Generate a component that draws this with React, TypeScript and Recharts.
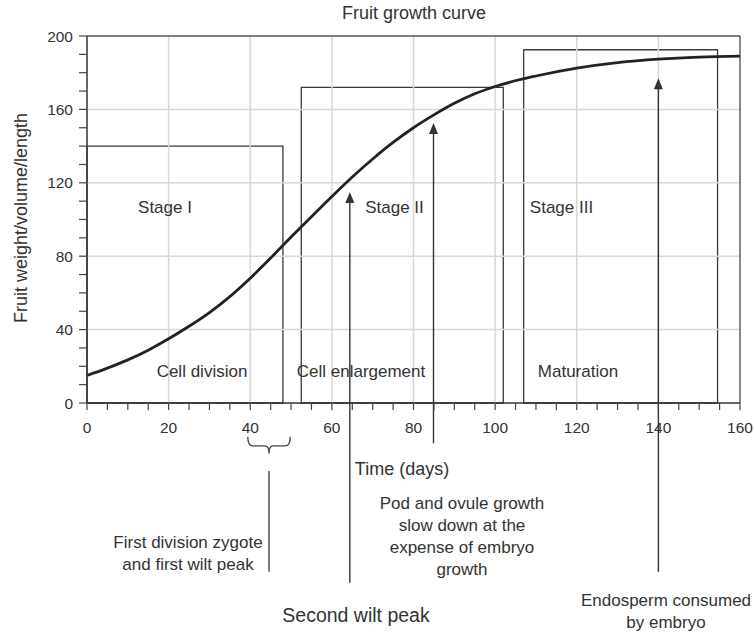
import React from 'react';
import {
  ComposedChart,
  Line,
  XAxis,
  YAxis,
  ReferenceLine,
  ReferenceArea,
} from 'recharts';

// growth curve
const DAYS = [0, 5, 10, 15, 20, 25, 30, 35, 40, 45, 50, 55, 60, 65, 70, 75, 80, 85, 90, 95, 100, 110, 120, 130, 140, 150, 160];
const WEIGHT = [15, 19, 23.5, 28.8, 35, 41.8, 49.3, 58, 68, 79, 90.5, 101.5, 112.5, 123.2, 133, 142, 150, 157, 163.3, 168.5, 172.5, 178.2, 182.5, 185.5, 187.4, 188.5, 189];

const X_TICKS = Array.from({ length: 33 }, (_, i) => i * 5);
const Y_TICKS = Array.from({ length: 21 }, (_, i) => i * 10);
const GRID_X = [20, 40, 60, 80, 100, 120, 140];
const GRID_Y = [40, 80, 120, 160];

// stage boxes
const STAGE_START = [0, 52.5, 107];
const STAGE_END = [48, 102, 154.5];
const STAGE_TOP = [140, 172, 192.5];

// pointer arrows (day, tip value, foot value below the axis)
const ARROW_X = [64.4, 84.9, 140];
const ARROW_TIP = [115, 152.6, 177];
const ARROW_FOOT = [-98, -22, -92];

const data = DAYS.map((d, i) => ({ day: d, weight: WEIGHT[i] }));

const FONT = '"Liberation Sans", Arial, Helvetica, sans-serif';
const INK = '#333';

const XTick = (props: any) => {
  const { x, y, payload } = props;
  if (payload.value % 20 !== 0) return null;
  return (
    <text x={x} y={y} dy="0.71em" textAnchor="middle" fontSize={15.5} fill={INK} fontFamily={FONT}>
      {payload.value}
    </text>
  );
};

const YTick = (props: any) => {
  const { x, y, payload } = props;
  if (payload.value % 40 !== 0) return null;
  return (
    <text x={x} y={y} dy="0.36em" textAnchor="end" fontSize={15.5} fill={INK} fontFamily={FONT}>
      {payload.value}
    </text>
  );
};

const Arrow = (props: any) => {
  const { x1, y1, x2, y2 } = props;
  const top = Math.min(y1, y2);
  const bottom = Math.max(y1, y2);
  const x = (x1 + x2) / 2;
  return (
    <g>
      <line x1={x} y1={bottom} x2={x} y2={top + 8} stroke="#333" strokeWidth={1.4} />
      <polygon points={`${x},${top} ${x - 4.5},${top + 11} ${x + 4.5},${top + 11}`} fill="#333" />
    </g>
  );
};

const Brace = (props: any) => {
  const { x, y, width, height } = props;
  const cx = x + width / 2;
  const m = y + height * 0.55;
  const d = `M${x},${y} Q${x},${m} ${x + 5},${m} L${cx - 4},${m} Q${cx},${m} ${cx},${y + height} Q${cx},${m} ${cx + 4},${m} L${x + width - 5},${m} Q${x + width},${m} ${x + width},${y}`;
  return <path d={d} fill="none" stroke="#444" strokeWidth={1.3} />;
};

const Txt = ({ x, y, size = 17, lines, anchor = 'middle' }: any) => (
  <text x={x} y={y} fontSize={size} fill={INK} fontFamily={FONT} textAnchor={anchor} dominantBaseline="central">
    {lines.map((l: string, i: number) => (
      <tspan key={i} x={x} dy={i === 0 ? 0 : 22}>
        {l}
      </tspan>
    ))}
  </text>
);

export default function App() {
  return (
    <div style={{ position: 'absolute', left: 0, top: 0, width: 755, height: 636, background: '#fff' }}>
      <ComposedChart
        width={755}
        height={636}
        data={data}
        margin={{ top: 36, right: 15, bottom: 203, left: 47 }}
      >
        {GRID_X.map((g) => (
          <ReferenceLine key={'gx' + g} x={g} stroke="#d8d8d8" strokeWidth={1.5} />
        ))}
        {GRID_Y.map((g) => (
          <ReferenceLine key={'gy' + g} y={g} stroke="#d8d8d8" strokeWidth={1.5} />
        ))}
        <ReferenceLine y={200} stroke="#555" strokeWidth={1.4} />
        <ReferenceLine x={160} stroke="#555" strokeWidth={1.4} />
        <XAxis
          type="number"
          dataKey="day"
          domain={[0, 160]}
          ticks={X_TICKS}
          interval={0}
          height={30}
          tickSize={7}
          tickMargin={12}
          tick={<XTick />}
          axisLine={{ stroke: '#333', strokeWidth: 1.5 }}
          tickLine={{ stroke: '#444', strokeWidth: 1.2 }}
        />
        <YAxis
          type="number"
          domain={[0, 200]}
          ticks={Y_TICKS}
          interval={0}
          width={40}
          tickSize={8}
          tickMargin={6}
          tick={<YTick />}
          axisLine={{ stroke: '#333', strokeWidth: 1.5 }}
          tickLine={{ stroke: '#444', strokeWidth: 1.2 }}
        />
        {STAGE_START.map((s, i) => (
          <ReferenceArea
            key={'st' + i}
            x1={s}
            x2={STAGE_END[i]}
            y1={0}
            y2={STAGE_TOP[i]}
            fill="none"
            fillOpacity={0}
            stroke="#3a3a3a"
            strokeWidth={1.3}
          />
        ))}
        <Line
          type="monotone"
          dataKey="weight"
          stroke="#222"
          strokeWidth={2.8}
          dot={false}
          activeDot={false}
          isAnimationActive={false}
        />
        {ARROW_X.map((ax, i) => (
          <ReferenceLine
            key={'ar' + i}
            segment={[
              { x: ax, y: ARROW_FOOT[i] },
              { x: ax, y: ARROW_TIP[i] },
            ]}
            ifOverflow="visible"
            shape={<Arrow />}
          />
        ))}
        <ReferenceArea x1={39.4} x2={49.8} y1={-18.4} y2={-27.5} ifOverflow="visible" shape={<Brace />} />
        <ReferenceLine
          segment={[
            { x: 44.6, y: -37 },
            { x: 44.6, y: -92 },
          ]}
          ifOverflow="visible"
          stroke="#444"
          strokeWidth={1.4}
        />
      </ComposedChart>
      <svg width={755} height={636} style={{ position: 'absolute', left: 0, top: 0, pointerEvents: 'none' }}>
        <Txt x={414} y={13} size={18} lines={['Fruit growth curve']} />
        <text
          x={20.5}
          y={218}
          transform="rotate(-90 20.5 218)"
          fontSize={18}
          fill={INK}
          fontFamily={FONT}
          textAnchor="middle"
          dominantBaseline="central"
        >
          Fruit weight/volume/length
        </text>
        <Txt x={165} y={207} lines={['Stage I']} />
        <Txt x={394.5} y={207} lines={['Stage II']} />
        <Txt x={561.5} y={207} lines={['Stage III']} />
        <Txt x={202} y={371} lines={['Cell division']} />
        <Txt x={361} y={371} lines={['Cell enlargement']} />
        <Txt x={578} y={371} lines={['Maturation']} />
        <Txt x={402} y={469} size={18} lines={['Time (days)']} />
        <Txt x={462} y={503} lines={['Pod and ovule growth', 'slow down at the', 'expense of embryo', 'growth']} />
        <Txt x={188} y={542} lines={['First division zygote', 'and first wilt peak']} />
        <Txt x={356} y={615} size={19.5} lines={['Second wilt peak']} />
        <Txt x={666} y={600} lines={['Endosperm consumed', 'by embryo']} />
      </svg>
    </div>
  );
}
